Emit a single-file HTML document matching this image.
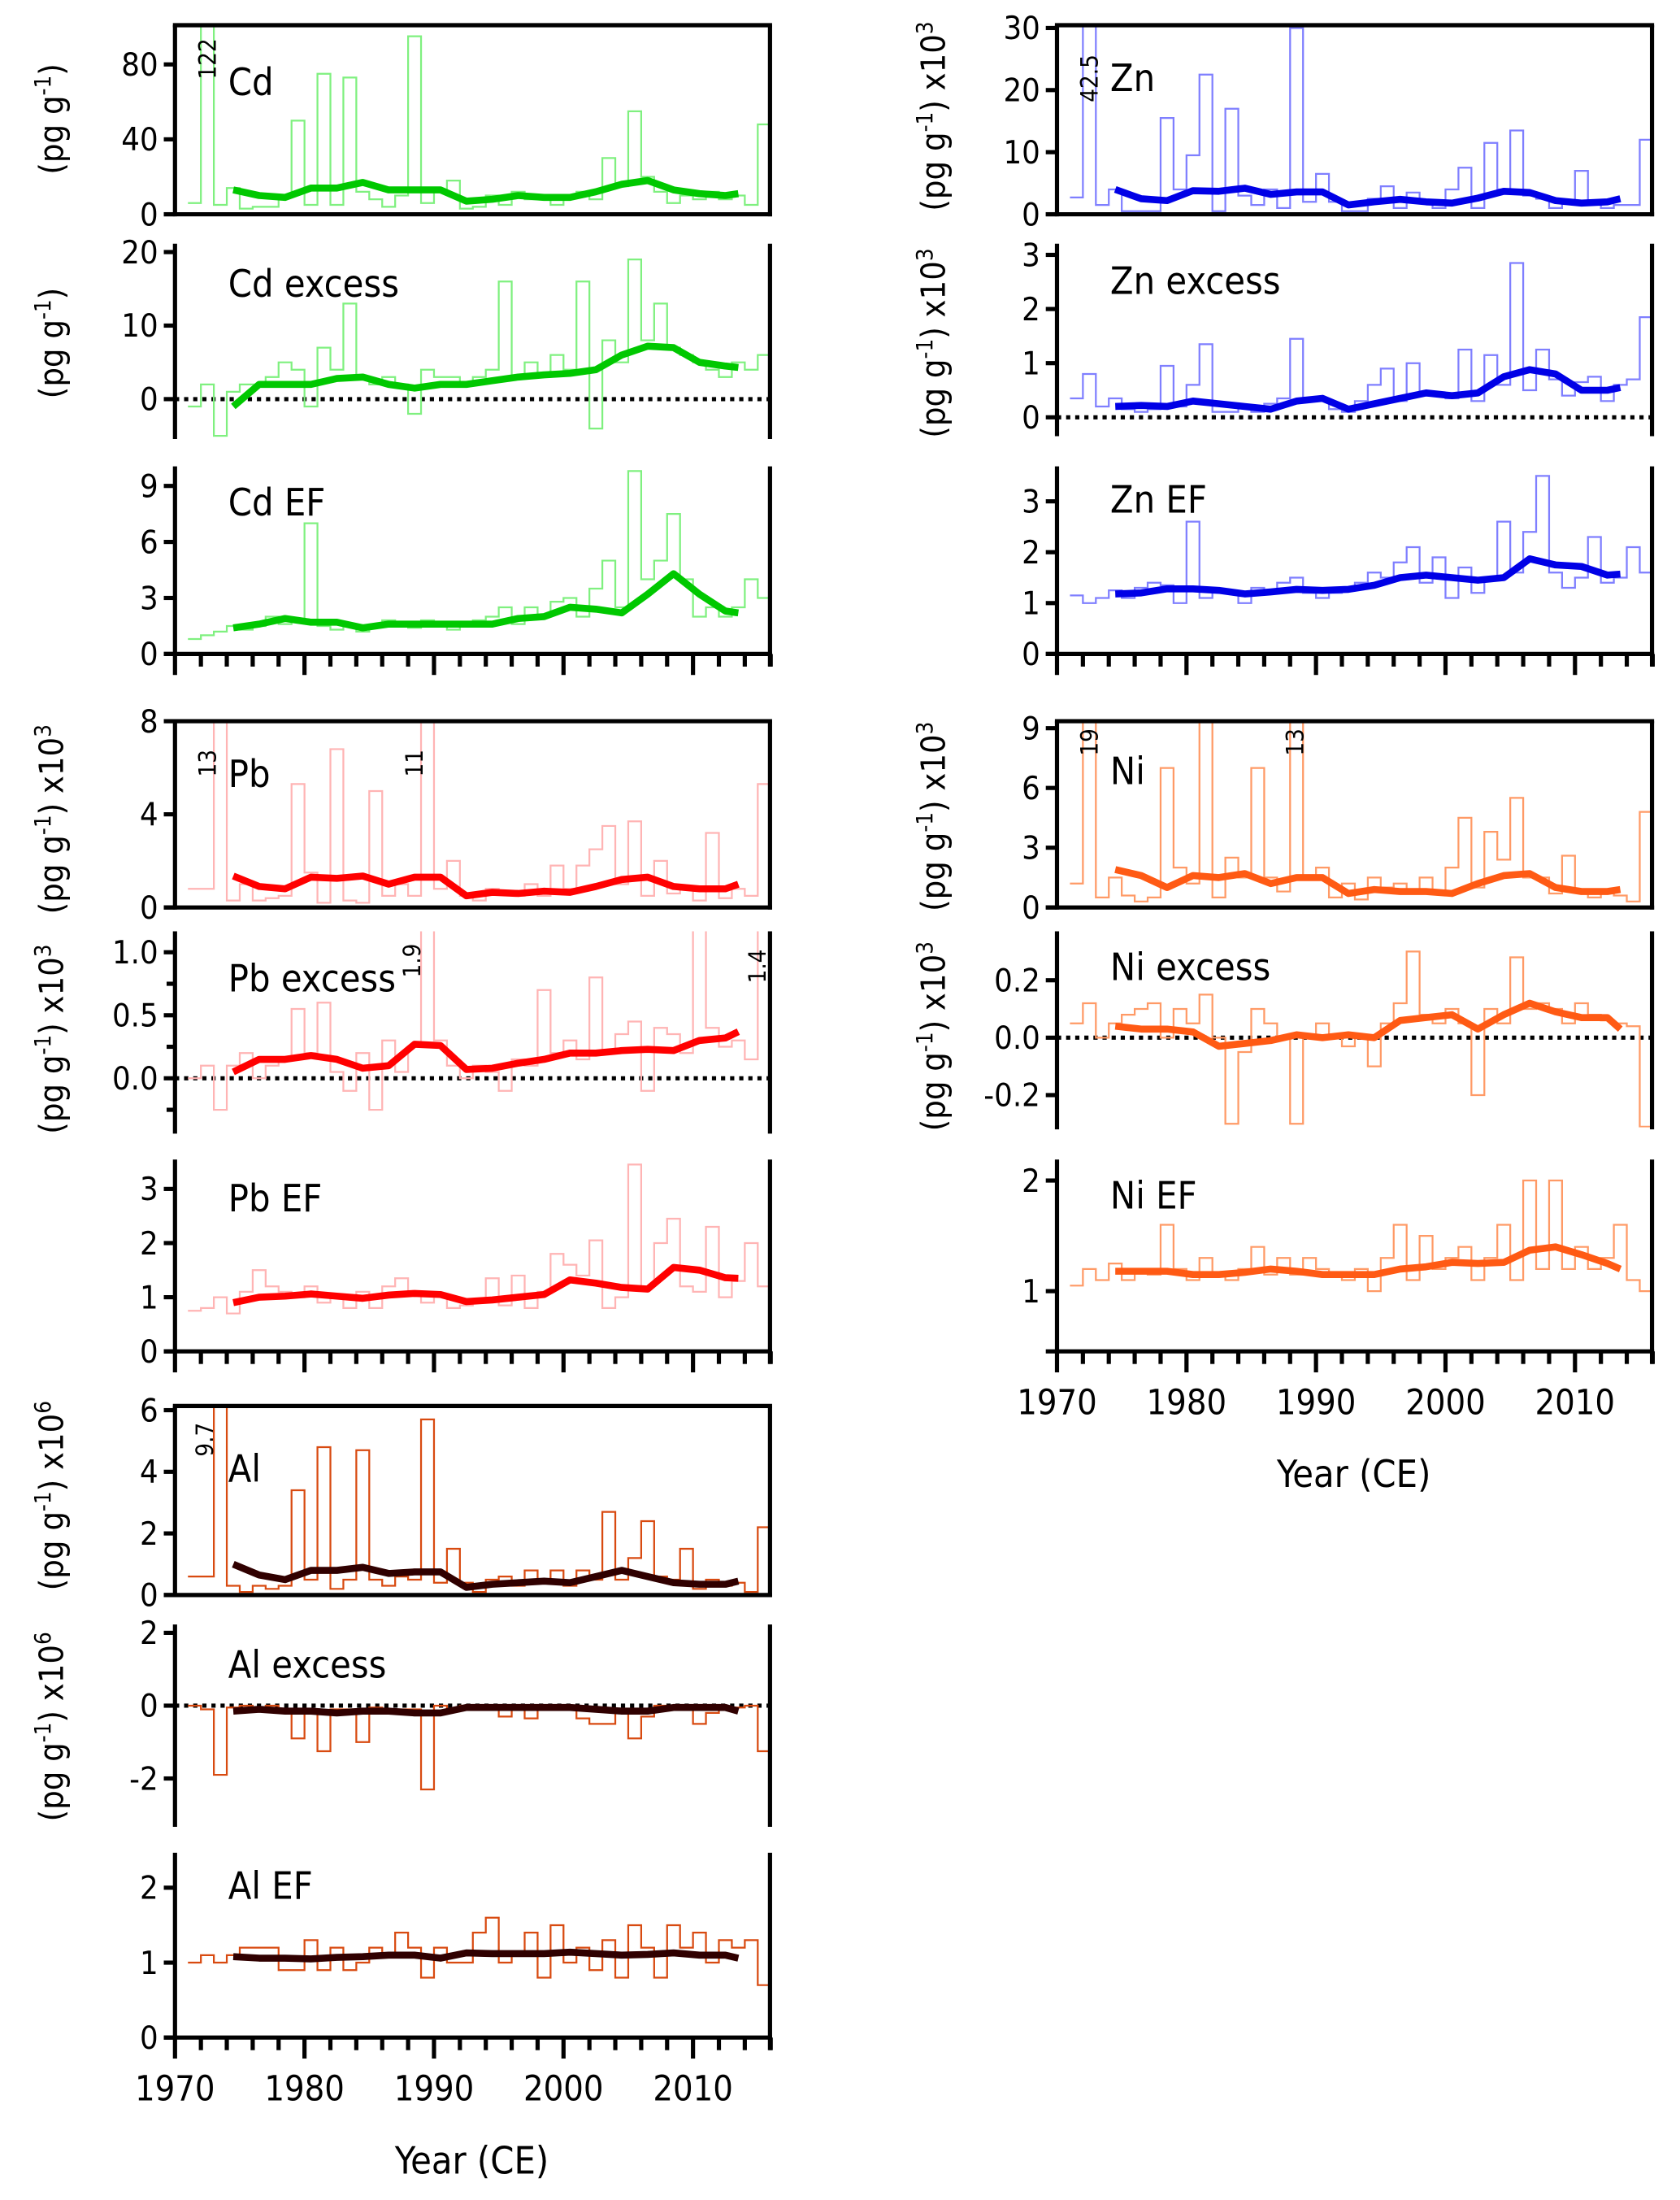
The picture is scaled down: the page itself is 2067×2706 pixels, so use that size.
<!DOCTYPE html>
<html><head><meta charset="utf-8">
<style>
html,body{margin:0;padding:0;background:#fff;}
svg{display:block;}
text{font-family:"DejaVu Sans Condensed","DejaVu Sans","Liberation Sans",sans-serif;fill:#000;}
</style></head>
<body>
<svg id="chart" xmlns="http://www.w3.org/2000/svg" width="2067" height="2706" viewBox="0 0 1200 1571" preserveAspectRatio="none">
<defs id="defs"></defs>
<g id="root"></g>
</svg>
<script>
// ---- shared x data ----
const years = [1971,1972,1973,1974,1975,1976,1977,1978,1979,1980,1981,1982,1983,1984,1985,1986,1987,1988,1989,1990,1991,1992,1993,1994,1995,1996,1997,1998,1999,2000,2001,2002,2003,2004,2005,2006,2007,2008,2009,2010,2011,2012,2013,2014,2015];
const smoothYears = [1974,1976,1978,1980,1982,1984,1986,1988,1990,1992,1994,1996,1998,2000,2002,2004,2006,2008,2010,2012,2013];
const xTickYears = [1970,1980,1990,2000,2010];

// ---- Cd ----
const cdRaw = [6,122,5,14,3,4,4,10,50,5,75,5,73,12,8,4,10,95,6,12,18,3,4,10,5,12,8,8,5,10,12,8,30,15,55,20,12,6,10,8,12,8,10,5,48];
const cdSmooth = [13,10,9,14,14,17,13,13,13,7,8,10,9,9,12,16,18,13,11,10,11];
const cdExRaw = [-1,2,-5,1,2,2,3,5,4,-1,7,4,13,3,2,3,2,-2,4,3,3,2,3,4,16,3,5,3,6,4,16,-4,8,5,19,8,13,7,6,5,4,3,5,4,6];
const cdExSmooth = [-1,2,2,2,2.8,3,2,1.5,2,2,2.5,3,3.3,3.5,4,6,7.2,7,5,4.5,4.3];
const cdEfRaw = [0.8,1,1.2,1.5,1.3,1.5,2,1.6,1.8,7,1.5,1.3,1.6,1.2,1.5,1.8,1.5,1.4,1.8,1.5,1.3,1.6,1.8,2,2.5,1.6,2.5,2,2.8,3,2,3.5,5,2.5,9.8,4,5,7.5,4,2,2.5,2,2.5,4,3];
const cdEfSmooth = [1.4,1.6,1.9,1.7,1.7,1.4,1.6,1.6,1.6,1.6,1.6,1.9,2.0,2.5,2.4,2.2,3.2,4.3,3.2,2.3,2.2];
// ---- Pb ----
const pbRaw = [0.8,0.8,13,0.3,1,0.3,0.4,0.5,5.3,1.5,0.2,6.8,0.3,0.2,5,0.5,1,0.5,11,0.8,2,0.5,0.3,0.8,0.6,0.5,1,0.5,1.8,0.8,1.8,2.5,3.5,1,3.7,0.5,2,0.6,0.8,0.3,3.2,0.4,0.8,0.5,5.3];
const pbSmooth = [1.35,0.9,0.8,1.3,1.25,1.35,1.0,1.3,1.3,0.5,0.65,0.6,0.7,0.65,0.9,1.2,1.3,0.9,0.8,0.8,1.0];
const pbExRaw = [0,0.1,-0.25,0.1,0.2,0,0.1,0.15,0.55,0.2,0.6,0.05,-0.1,0.2,-0.25,0.3,0.05,0.25,1.9,0.3,0.1,0,0.1,0.05,-0.1,0.15,0.1,0.7,0.2,0.3,0.15,0.8,0.2,0.35,0.45,-0.1,0.4,0.35,0.2,1.2,0.4,0.25,0.3,0.15,1.4];
const pbExSmooth = [0.05,0.15,0.15,0.18,0.15,0.08,0.1,0.27,0.26,0.07,0.08,0.12,0.15,0.2,0.2,0.22,0.23,0.22,0.3,0.32,0.37];
const pbEfRaw = [0.75,0.8,1,0.7,1.1,1.5,1.2,1.1,1,1.2,0.9,1.05,0.8,1.1,0.8,1.2,1.35,1.1,0.9,1.05,0.8,0.85,0.9,1.35,0.85,1.4,0.8,1.1,1.8,1.6,1.4,2.05,0.8,1.0,3.45,1.2,2.0,2.45,1.2,1.1,2.3,1.0,1.3,2.0,1.2];
const pbEfSmooth = [0.9,1.0,1.02,1.06,1.02,0.98,1.04,1.07,1.05,0.92,0.95,1.0,1.05,1.32,1.26,1.18,1.15,1.55,1.5,1.36,1.35];
// ---- Al ----
const alRaw = [0.6,0.6,9.7,0.3,0.1,0.3,0.2,0.3,3.4,0.5,4.8,0.2,0.5,4.7,0.5,0.3,0.6,0.5,5.7,0.4,1.5,0.4,0.1,0.5,0.6,0.3,0.8,0.4,0.8,0.3,0.8,0.5,2.7,0.5,1.2,2.4,0.6,0.5,1.5,0.2,0.5,0.3,0.4,0.1,2.2];
const alSmooth = [1.0,0.65,0.5,0.8,0.8,0.9,0.7,0.75,0.75,0.25,0.35,0.4,0.45,0.4,0.6,0.8,0.6,0.4,0.35,0.35,0.45];
const alExRaw = [0,-0.1,-1.9,-0.05,0,-0.1,0,-0.1,-0.9,-0.1,-1.25,-0.1,-0.1,-1.0,-0.05,-0.1,-0.1,-0.1,-2.3,0,-0.1,0,0,-0.1,-0.3,0,-0.35,0,-0.1,0,-0.35,-0.5,-0.5,-0.1,-0.9,-0.3,0,-0.1,-0.05,-0.5,-0.2,-0.1,-0.05,0,-1.25];
const alExSmooth = [-0.15,-0.1,-0.15,-0.15,-0.2,-0.15,-0.15,-0.2,-0.2,-0.05,-0.05,-0.05,-0.05,-0.05,-0.1,-0.15,-0.15,-0.05,-0.05,-0.05,-0.15];
const alEfRaw = [1.0,1.1,1.0,1.1,1.2,1.2,1.2,0.9,0.9,1.3,0.9,1.2,0.9,1.0,1.2,1.1,1.4,1.2,0.8,1.2,1.0,1.0,1.4,1.6,1.0,1.1,1.4,0.8,1.5,1.0,1.2,0.9,1.3,0.8,1.5,1.2,0.8,1.5,1.2,1.4,1.0,1.3,1.2,1.3,0.7];
const alEfSmooth = [1.08,1.06,1.06,1.05,1.07,1.08,1.1,1.1,1.06,1.13,1.12,1.12,1.12,1.14,1.12,1.1,1.11,1.13,1.1,1.1,1.06];
// ---- Zn ----
const znRaw = [2.7,42.5,1.5,4,0.5,0.5,0.5,15.5,4,9.5,22.5,0.5,17,3,1.5,4,1,30,2,6.5,2,0.5,0.5,2.5,4.5,1,3.5,2,1,4,7.5,1,11.5,4,13.5,3,2.5,1,2,7,2,1,1.5,1.5,12];
const znSmooth = [4,2.5,2.2,3.8,3.7,4.2,3.2,3.6,3.6,1.5,2.0,2.4,2.0,1.8,2.6,3.7,3.5,2.2,1.8,2.0,2.5];
const znExRaw = [0.35,0.8,0.2,0.35,0.15,0.1,0.15,0.95,0.2,0.6,1.35,0.1,0.1,0.2,0.1,0.25,0.35,1.45,0.3,0.3,0.15,0.1,0.3,0.6,0.9,0.3,1.0,0.4,0.45,0.35,1.25,0.3,1.15,0.6,2.85,0.5,1.25,0.7,0.4,0.65,0.75,0.3,0.6,0.7,1.85];
const znExSmooth = [0.2,0.22,0.2,0.3,0.25,0.2,0.15,0.3,0.35,0.15,0.25,0.35,0.45,0.4,0.45,0.75,0.88,0.8,0.5,0.5,0.55];
const znEfRaw = [1.15,1.0,1.1,1.25,1.1,1.3,1.4,1.35,1.0,2.6,1.1,1.25,1.2,1.0,1.3,1.2,1.4,1.5,1.2,1.1,1.2,1.3,1.4,1.6,1.5,1.8,2.1,1.4,1.9,1.1,1.7,1.2,1.5,2.6,1.6,2.4,3.5,1.6,1.3,1.5,2.3,1.4,1.5,2.1,1.6];
const znEfSmooth = [1.18,1.2,1.28,1.28,1.25,1.18,1.22,1.27,1.25,1.27,1.35,1.5,1.55,1.5,1.45,1.5,1.87,1.75,1.72,1.55,1.57];
// ---- Ni ----
const niRaw = [1.2,19,0.5,1.5,0.6,0.3,0.5,7,2,1.2,9.6,0.5,2.5,1.5,7,1.5,0.8,13,1.5,2,0.5,1.2,0.4,1.5,1,1.2,0.8,1.5,0.8,2,4.5,1,3.8,2.4,5.5,1.5,1.5,0.7,2.6,0.8,0.5,0.8,0.6,0.3,4.8];
const niSmooth = [1.9,1.6,1.0,1.6,1.5,1.7,1.2,1.5,1.5,0.7,0.9,0.8,0.8,0.7,1.2,1.6,1.7,1.0,0.8,0.8,0.9];
const niExRaw = [0.05,0.12,0,0.05,0.08,0.1,0.12,0,0.1,0.05,0.15,0,-0.3,-0.05,0.1,0.05,0,-0.3,0,0.05,0,-0.03,0,-0.1,0.05,0.12,0.3,0.08,0.05,0.1,0.05,-0.2,0.1,0.05,0.28,0.1,0.12,0.1,0.05,0.12,0.08,0.06,0.05,0.04,-0.31];
const niExSmooth = [0.04,0.03,0.03,0.02,-0.03,-0.02,-0.01,0.01,0,0.01,0,0.06,0.07,0.08,0.03,0.08,0.12,0.09,0.07,0.07,0.03];
const niEfRaw = [1.05,1.2,1.1,1.25,1.1,1.2,1.15,1.6,1.2,1.1,1.3,1.15,1.1,1.2,1.4,1.15,1.3,1.15,1.3,1.2,1.15,1.1,1.2,1.0,1.3,1.6,1.1,1.5,1.2,1.3,1.4,1.1,1.3,1.6,1.1,2.0,1.2,2.0,1.2,1.4,1.2,1.3,1.6,1.1,1.0];
const niEfSmooth = [1.18,1.18,1.18,1.15,1.15,1.17,1.2,1.18,1.15,1.15,1.15,1.2,1.22,1.26,1.25,1.26,1.37,1.4,1.33,1.25,1.2];

// ---- colours ----
const C = {
  cd:['#7ff07f','#00c800'], pb:['#ffb4b4','#ff0000'], al:['#d84a10','#300000'],
  zn:['#7f7fff','#0000e6'], ni:['#ff9a66','#ff5a14']
};

const NS='http://www.w3.org/2000/svg';
const root=document.getElementById('root');
const defs=document.getElementById('defs');
function el(tag,attrs,parent){const e=document.createElementNS(NS,tag);for(const k in attrs)e.setAttribute(k,attrs[k]);(parent||root).appendChild(e);return e;}

const PXY=9.25;
function makeX(left){return yr=>left+(yr-1970)*PXY;}
function makeY(v0,y0,v1,y1){return v=>y0+(v-v0)*(y1-y0)/(v1-v0);}

const panels=[
 {id:'cd',name:'Cd',col:125,top:18,bot:153,v0:0,y0:153,v1:80,y1:46,ticks:[0,40,80],raw:cdRaw,sm:cdSmooth,c:C.cd,title:[163,68],topBorder:true,baseline:true,ylab:1,yexp:'',ylabY:85},
 {id:'cd-excess',name:'Cd excess',col:125,top:174,bot:312,v0:0,y0:285,v1:20,y1:180,ticks:[0,10,20],raw:cdExRaw,sm:cdExSmooth,c:C.cd,title:[163,212],dotted:true,ylab:1,yexp:'',ylabY:245},
 {id:'cd-ef',name:'Cd EF',col:125,top:333,bot:467,v0:0,y0:467,v1:9,y1:347,ticks:[0,3,6,9],raw:cdEfRaw,sm:cdEfSmooth,c:C.cd,title:[163,368],xaxis:true},
 {id:'pb',name:'Pb',col:125,top:515,bot:648,v0:0,y0:648,v1:8,y1:515,ticks:[0,4,8],raw:pbRaw,sm:pbSmooth,c:C.pb,title:[163,562],topBorder:true,baseline:true,ylab:1,yexp:'3',ylabY:585},
 {id:'pb-excess',name:'Pb excess',col:125,top:665,bot:808,v0:0,y0:770,v1:1,y1:680,ticks:[0,0.5,1],tickFmt:1,minor:[-0.25,0.25,0.75],raw:pbExRaw,sm:pbExSmooth,c:C.pb,title:[163,708],dotted:true,ylab:1,yexp:'3',ylabY:742},
 {id:'pb-ef',name:'Pb EF',col:125,top:828,bot:965,v0:0,y0:965,v1:3,y1:849,ticks:[0,1,2,3],raw:pbEfRaw,sm:pbEfSmooth,c:C.pb,title:[163,865],xaxis:true},
 {id:'al',name:'Al',col:125,top:1004,bot:1139,v0:0,y0:1139,v1:6,y1:1007,ticks:[0,2,4,6],raw:alRaw,sm:alSmooth,c:C.al,title:[163,1058],topBorder:true,baseline:true,ylab:1,yexp:'6',ylabY:1068},
 {id:'al-excess',name:'Al excess',col:125,top:1160,bot:1303,v0:0,y0:1218,v1:2,y1:1166,ticks:[-2,0,2],raw:alExRaw,sm:alExSmooth,c:C.al,title:[163,1198],dotted:true,ylab:1,yexp:'6',ylabY:1233},
 {id:'al-ef',name:'Al EF',col:125,top:1323,bot:1455,v0:0,y0:1455,v1:2,y1:1348,ticks:[0,1,2],raw:alEfRaw,sm:alEfSmooth,c:C.al,title:[163,1356],xaxis:true,xlabels:true},
 {id:'zn',name:'Zn',col:755,top:18,bot:153,v0:0,y0:153,v1:30,y1:20,ticks:[0,10,20,30],raw:znRaw,sm:znSmooth,c:C.zn,title:[793,65],topBorder:true,baseline:true,ylab:1,yexp:'3',ylabY:83},
 {id:'zn-excess',name:'Zn excess',col:755,top:174,bot:310,v0:0,y0:298,v1:3,y1:182,ticks:[0,1,2,3],raw:znExRaw,sm:znExSmooth,c:C.zn,title:[793,210],dotted:true,ylab:1,yexp:'3',ylabY:245},
 {id:'zn-ef',name:'Zn EF',col:755,top:333,bot:467,v0:0,y0:467,v1:3,y1:358,ticks:[0,1,2,3],raw:znEfRaw,sm:znEfSmooth,c:C.zn,title:[793,366],xaxis:true},
 {id:'ni',name:'Ni',col:755,top:515,bot:648,v0:0,y0:648,v1:9,y1:520,ticks:[0,3,6,9],raw:niRaw,sm:niSmooth,c:C.ni,title:[793,560],topBorder:true,baseline:true,ylab:1,yexp:'3',ylabY:583},
 {id:'ni-excess',name:'Ni excess',col:755,top:665,bot:805,v0:0,y0:741,v1:0.2,y1:700,ticks:[-0.2,0,0.2],tickFmt:1,raw:niExRaw,sm:niExSmooth,c:C.ni,title:[793,700],dotted:true,ylab:1,yexp:'3',ylabY:740},
 {id:'ni-ef',name:'Ni EF',col:755,top:828,bot:965,v0:1,y0:922,v1:2,y1:843,ticks:[1,2],raw:niEfRaw,sm:niEfSmooth,c:C.ni,title:[793,863],xaxis:true,xlabels:true}
];

panels.forEach(p=>{
  const g=el('g',{});
  
  
  const X=makeX(p.col), Y=makeY(p.v0,p.y0,p.v1,p.y1);
  const right=p.col+425;
  const cp=el('clipPath',{id:'clip-'+p.id},defs);
  el('rect',{x:p.col,y:p.top,width:425,height:p.bot-p.top},cp);
  const data=el('g',{'clip-path':'url(#clip-'+p.id+')'},g);
  if(p.dotted){
    const z=el('line',{x1:p.col,x2:right,y1:Y(0),y2:Y(0),stroke:'#000','stroke-width':3,'stroke-dasharray':'3,3.5'},data);
    
    
  }
  let d='';
  years.forEach((yr,i)=>{
    const x0=X(yr),x1=X(yr+1),y=Y(p.raw[i]);
    d+=(i===0?'M'+x0+' '+y:'V'+y)+'H'+x1;
  });
  const raw=el('path',{d:d,fill:'none',stroke:p.c[0],'stroke-width':1.3},data);
  
  
  const sd=smoothYears.map((yr,i)=>(i?'L':'M')+X(yr+0.5)+' '+Y(p.sm[i])).join('');
  const sm=el('path',{d:sd,fill:'none',stroke:p.c[1],'stroke-width':5,'stroke-linejoin':'round'},data);
  
  
  el('line',{x1:p.col,x2:p.col,y1:p.top,y2:p.bot+1.5,stroke:'#000','stroke-width':3},g);
  el('line',{x1:right,x2:right,y1:p.top,y2:p.bot+1.5,stroke:'#000','stroke-width':3},g);
  if(p.topBorder) el('line',{x1:p.col-1.5,x2:right+1.5,y1:p.top,y2:p.top,stroke:'#000','stroke-width':3},g);
  if(p.baseline||p.xaxis) el('line',{x1:p.col-8,x2:right+1.5,y1:p.bot,y2:p.bot,stroke:'#000','stroke-width':3},g);
  p.ticks.forEach(t=>{
    const y=Y(t);
    el('line',{x1:p.col-8,x2:p.col,y1:y,y2:y,stroke:'#000','stroke-width':3},g);
    const tl=el('text',{x:p.col-12,y:y+8,'text-anchor':'end','font-size':23},g);
    tl.textContent=p.tickFmt?(t<0?'-':'')+Math.abs(t).toFixed(1):String(t);
    
    
  });
  (p.minor||[]).forEach(t=>{
    el('line',{x1:p.col-6,x2:p.col,y1:Y(t),y2:Y(t),stroke:'#000','stroke-width':3},g);
  });
  if(p.xaxis){
    for(let yr=1970;yr<=2016;yr+=2){
      const major=(yr%10===0);
      el('line',{x1:X(yr),x2:X(yr),y1:p.bot,y2:p.bot+(major?15:9),stroke:'#000','stroke-width':3},g);
    }
    el('line',{x1:right,x2:right,y1:p.bot,y2:p.bot+9,stroke:'#000','stroke-width':3},g);
    if(p.xlabels){
      xTickYears.forEach(yr=>{
        const t=el('text',{x:X(yr),y:p.bot+45,'text-anchor':'middle','font-size':25},g);
        t.textContent=String(yr);
        
        
      });
      const xt=el('text',{x:p.col+212,y:p.bot+97,'text-anchor':'middle','font-size':27},g);
      xt.textContent='Year (CE)';
      
      
    }
  }
  const tt=el('text',{x:p.title[0],y:p.title[1],'font-size':27},g);
  tt.textContent=p.name;
  
  
  if(p.ylab){
    const cx=p.col-80;
    const yt=el('text',{x:0,y:0,'text-anchor':'middle','font-size':24,transform:'translate('+cx+','+p.ylabY+') rotate(-90)'},g);
    
    
    const a=el('tspan',{},yt);a.textContent='(pg g';
    const b=el('tspan',{dy:-9,'font-size':16},yt);b.textContent='-1';
    const c=el('tspan',{dy:9},yt);c.textContent=')'+(p.yexp?' x10':'');
    if(p.yexp){const e=el('tspan',{dy:-9,'font-size':16},yt);e.textContent=p.yexp;}
  }
});

const annots=[['122',148,42],['42.5',778,56],['13',148,545],['11',296,545],['1.9',294,686],['1.4',541,690],['9.7',146,1028],['19',778,530],['13',925,530]];
annots.forEach(a=>{
  const t=el('text',{x:0,y:0,'text-anchor':'middle','font-size':17,transform:'translate('+(a[1]+6)+','+a[2]+') rotate(-90)'});
  t.textContent=a[0];
  
  
});
</script>
</body></html>
